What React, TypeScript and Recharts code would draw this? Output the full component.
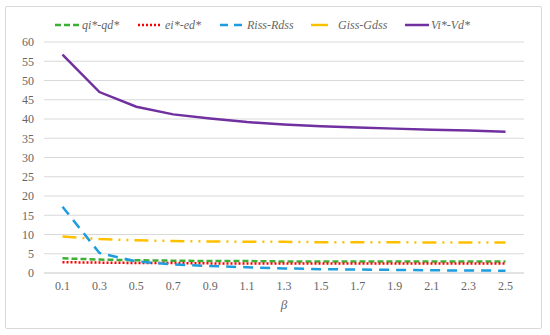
import React from 'react';
import { LineChart, Line, XAxis, YAxis, CartesianGrid, Legend } from 'recharts';

const betas = ['0.1', '0.3', '0.5', '0.7', '0.9', '1.1', '1.3', '1.5', '1.7', '1.9', '2.1', '2.3', '2.5'];
const qDiff = [3.8, 3.5, 3.3, 3.2, 3.1, 3.1, 3.0, 3.0, 3.0, 3.0, 3.0, 3.0, 3.0];
const eDiff = [2.8, 2.7, 2.6, 2.6, 2.5, 2.5, 2.5, 2.5, 2.5, 2.5, 2.5, 2.5, 2.5];
const rDiff = [17.2, 5.2, 3.0, 2.2, 1.8, 1.5, 1.2, 1.0, 0.9, 0.8, 0.7, 0.65, 0.6];
const gDiff = [9.5, 8.8, 8.5, 8.3, 8.2, 8.1, 8.1, 8.0, 8.0, 8.0, 7.9, 7.9, 7.9];
const vDiff = [56.7, 47.0, 43.2, 41.2, 40.1, 39.2, 38.6, 38.1, 37.8, 37.5, 37.2, 37.0, 36.7];
const yTicks = [0, 5, 10, 15, 20, 25, 30, 35, 40, 45, 50, 55, 60];

const data = betas.map((b, i) => ({
  beta: b,
  q: qDiff[i],
  e: eDiff[i],
  r: rDiff[i],
  g: gDiff[i],
  v: vDiff[i],
}));

const seriesDefs = [
  { key: 'q', name: 'qi*-qd*', color: '#3cb034', dash: '6 3' },
  { key: 'e', name: 'ei*-ed*', color: '#ff0000', dash: '2 2' },
  { key: 'r', name: 'Riss-Rdss', color: '#1e9ce0', dash: '10 7' },
  { key: 'g', name: 'Giss-Gdss', color: '#ffc000', dash: '14 6 2 6 2 6' },
  { key: 'v', name: 'Vi*-Vd*', color: '#7030a0', dash: undefined as string | undefined },
];

const legendX = [55, 138, 220, 311, 405];
const legendTextGap = [3, 3, 3, 10, 2];

const FONT = 'Liberation Serif';
const TXT = '#666666';

const CustomLegend = () => (
  <svg width={550} height={30} style={{ position: 'absolute', left: 0, top: 10 }}>
    {seriesDefs.map((s, i) => (
      <g key={s.key}>
        <line
          x1={legendX[i]}
          x2={legendX[i] + (i === 3 ? 17 : 24)}
          y1={15}
          y2={15}
          stroke={s.color}
          strokeWidth={2.5}
          strokeDasharray={i === 3 ? undefined : i === 2 ? '8 6' : s.dash}
        />
        <text
          x={legendX[i] + (i === 3 ? 17 : 24) + legendTextGap[i]}
          y={19}
          fontFamily={FONT}
          fontStyle="italic"
          fontSize={12}
          fill={TXT}
        >
          {s.name}
        </text>
      </g>
    ))}
  </svg>
);

export default function App() {
  return (
    <div
      style={{
        position: 'absolute',
        left: 0,
        top: 0,
        width: 550,
        height: 335,
        background: '#fff',
      }}
    >
      <div
        style={{
          position: 'absolute',
          left: 5,
          top: 6,
          width: 537,
          height: 323,
          border: '1px solid #d9d9d9',
          borderRadius: 2,
          boxSizing: 'border-box',
        }}
      />
      <LineChart
        width={550}
        height={335}
        data={data}
        margin={{ top: 42, right: 26, left: 0, bottom: 22 }}
        style={{ position: 'absolute', left: 0, top: 0 }}
      >
        <CartesianGrid vertical={false} stroke="#d9d9d9" strokeWidth={1} />
        <XAxis
          dataKey="beta"
          axisLine={{ stroke: '#d9d9d9' }}
          tickLine={false}
          tickSize={6}
          height={40}
          padding={{ left: 18.5, right: 18.5 }}
          tick={{ fontFamily: FONT, fontSize: 12, fill: TXT }}
          label={{
            value: 'β',
            position: 'insideBottom',
            offset: 4,
            fontFamily: FONT,
            fontSize: 13,
            fontStyle: 'italic',
            fill: TXT,
          }}
        />
        <YAxis
          width={44}
          domain={[0, 60]}
          ticks={yTicks}
          interval={0}
          axisLine={false}
          tickLine={false}
          tickSize={8}
          tick={{ fontFamily: FONT, fontSize: 12, fill: TXT }}
        />
        <Legend content={() => null} />
        {seriesDefs.map((s) => (
          <Line
            key={s.key}
            type="linear"
            dataKey={s.key}
            name={s.name}
            stroke={s.color}
            strokeWidth={2.5}
            strokeDasharray={s.dash}
            dot={false}
            activeDot={false}
            isAnimationActive={false}
          />
        ))}
      </LineChart>
      <CustomLegend />
    </div>
  );
}
